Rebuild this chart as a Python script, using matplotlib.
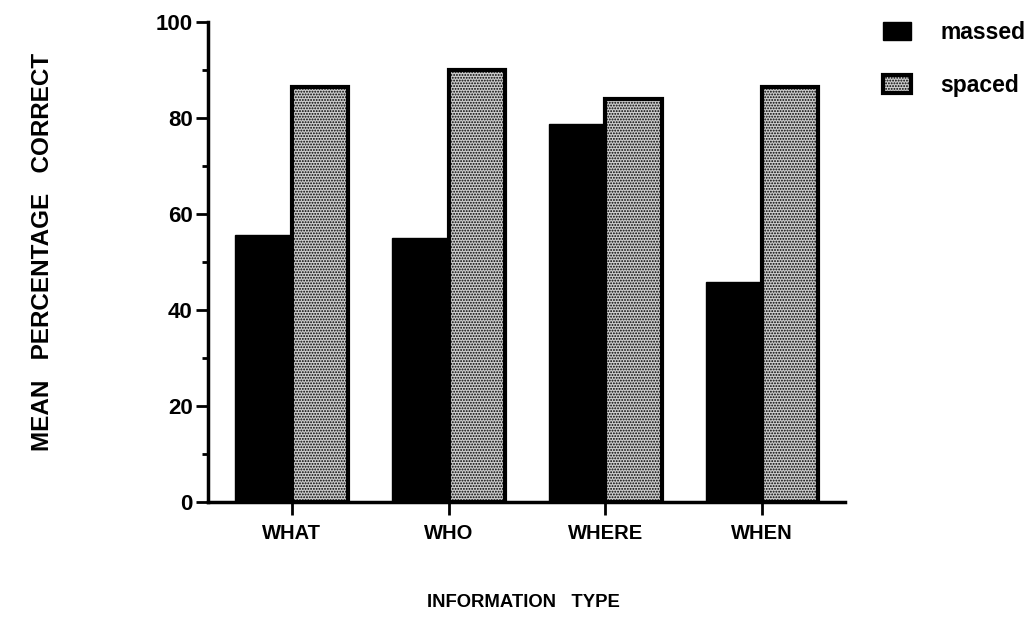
import numpy as np
import matplotlib
matplotlib.use("Agg")
import matplotlib.pyplot as plt

# data
categories = ["WHAT", "WHO", "WHERE", "WHEN"]
massed = [55.6, 55.0, 78.7, 45.8]
spaced = [86.5, 90.0, 84.0, 86.5]

plt.rcParams["font.family"] = ["Liberation Sans", "DejaVu Sans"]
plt.rcParams["hatch.linewidth"] = 0.9

fig = plt.figure(figsize=(10.31, 6.42), dpi=100)
ax = fig.add_axes([0.2017, 0.218, 0.618, 0.748])

x = np.arange(len(categories))
w = 0.36
ax.bar(x - w / 2, massed, w, color="black", edgecolor="black", linewidth=1, label="massed")
ax.bar(x + w / 2, spaced, w, color="#cccccc", edgecolor="black", hatch="......",
       linewidth=3, label="spaced")

ax.set_xlim(-0.535, 3.53)
ax.set_ylim(0, 100)
ax.set_yticks([0, 20, 40, 60, 80, 100])
ax.set_yticks([10, 30, 50, 70, 90], minor=True)
ax.set_xticks(x)
ax.set_xticklabels(categories, fontsize=14.5, fontweight="bold")
ax.tick_params(axis="y", labelsize=16, width=2, length=9, pad=2)
ax.tick_params(axis="y", which="minor", width=2, length=4)
ax.tick_params(axis="x", width=2, length=9, direction="out", pad=7)
for lbl in ax.get_yticklabels():
    lbl.set_fontweight("bold")

for s in ["top", "right"]:
    ax.spines[s].set_visible(False)
for s in ["left", "bottom"]:
    ax.spines[s].set_linewidth(2.5)

fig.text(0.041, 0.607, "MEAN   PERCENTAGE   CORRECT", rotation=90, fontsize=17.5,
         fontweight="bold", ha="center", va="center")
fig.text(0.508, 0.062, "INFORMATION   TYPE", fontsize=13.3, fontweight="bold",
         ha="center", va="center")

leg = ax.legend(loc="upper left", bbox_to_anchor=(883 / 1031, 1 - 21 / 642),
                bbox_transform=fig.transFigure, frameon=False,
                prop={"size": 16.5, "weight": "bold"}, borderpad=0, borderaxespad=0,
                handlelength=1.2, handleheight=0.85, handletextpad=1.3, labelspacing=1.3)

fig.savefig("out.png", dpi=100)
